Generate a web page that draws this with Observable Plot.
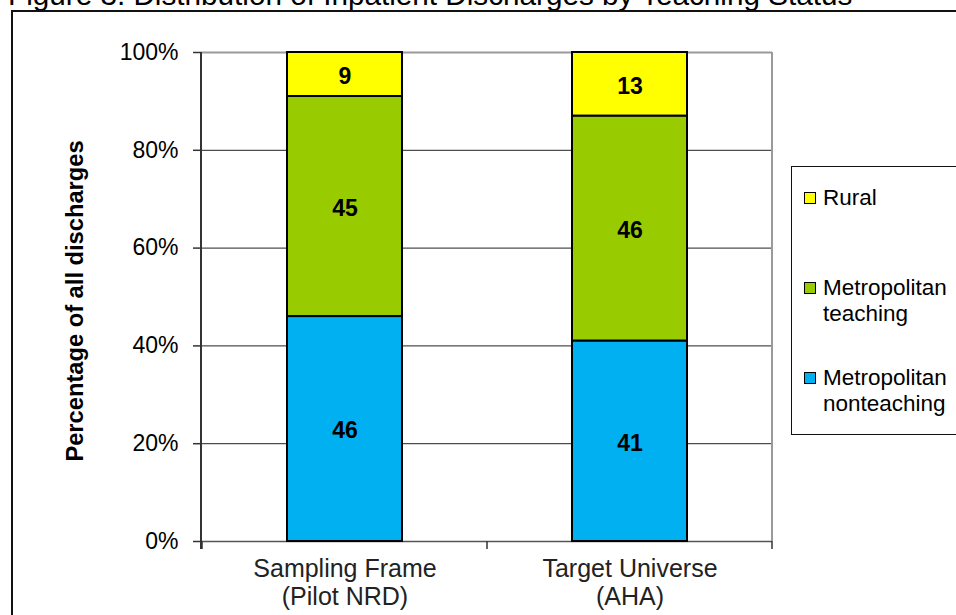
<!DOCTYPE html>
<html>
<head>
<meta charset="utf-8">
<script src="https://cdn.jsdelivr.net/npm/d3@7"></script>
<script src="https://cdn.jsdelivr.net/npm/@observablehq/plot@0.6"></script>
<style>
  html, body { margin: 0; padding: 0; background: #fff; }
  #wrap { position: relative; width: 956px; height: 615px; overflow: hidden;
          font-family: "Liberation Sans", Arial, sans-serif; color: #000; }
  #title { position: absolute; left: 8px; top: -20px; font-size: 29.7px; line-height: 1; white-space: nowrap; }
  #frame { position: absolute; left: 11px; top: 10px; width: 1000px; height: 700px; border: 2px solid #111; }
  #chart { position: absolute; left: 0; top: 0; }
  #legend { position: absolute; left: 791px; top: 166px; width: 220px; height: 267px; border: 1px solid #111; background: #fff; }
  .entry { position: absolute; left: 12px; font-size: 22.5px; line-height: 26px; }
  .swatch { position: absolute; left: 0; top: 7px; width: 10px; height: 10px; border: 1.5px solid #000; }
  .entry span { display: block; padding-left: 19px; }
</style>
</head>
<body>
<div id="wrap">
  <div id="title">Figure 3. Distribution of Inpatient Discharges by Teaching Status</div>
  <div id="frame"></div>
  <div id="chart"></div>
  <div id="legend"></div>
</div>
<script>
// Share of inpatient discharges (percent) by hospital type
const categories = ["Sampling Frame\n(Pilot NRD)", "Target Universe\n(AHA)"];
const seriesNames = ["Metropolitan nonteaching", "Metropolitan teaching", "Rural"];
const legendLines = [["Metropolitan", "nonteaching"], ["Metropolitan", "teaching"], ["Rural"]];
const nonteaching = [46, 41];
const teaching = [45, 46];
const rural = [9, 13];
const seriesColors = ["#00B0F0", "#99CC00", "#FFFF00"];
const yTicks = [0, 20, 40, 60, 80, 100];
const yLabel = "Percentage of all discharges";

const seriesValues = [nonteaching, teaching, rural];
const rows = [];
seriesNames.forEach((s, si) => {
  categories.forEach((c, ci) => rows.push({category: c, series: s, value: seriesValues[si][ci]}));
});

// Plot-area frame pieces and category boundary ticks, placed through the scales
const frameLines = (index, scales, values, dims) => {
  const g = d3.create("svg:g");
  const x = scales.x, y = scales.y;
  const left = dims.marginLeft, right = dims.width - dims.marginRight;
  const top = y(100), bottom = y(0);
  g.append("line").attr("x1", right).attr("x2", right).attr("y1", top).attr("y2", bottom)
    .attr("stroke", "#9a9a9a").attr("stroke-width", 2);
  g.append("line").attr("x1", left).attr("x2", left).attr("y1", top).attr("y2", bottom + 8)
    .attr("stroke", "#333").attr("stroke-width", 2);
  const half = (x.step() - x.bandwidth()) / 2;
  const edges = categories.map(c => x(c) - half).concat([x(categories[categories.length - 1]) + x.bandwidth() + half]);
  edges.forEach(e => {
    g.append("line").attr("x1", e).attr("x2", e).attr("y1", bottom).attr("y2", bottom + 8)
      .attr("stroke", "#333").attr("stroke-width", 1.5);
  });
  return g.node();
};

const chart = Plot.plot({
  width: 956,
  height: 615,
  marginLeft: 201,
  marginRight: 184,
  marginTop: 52,
  marginBottom: 74,
  style: {fontFamily: "'Liberation Sans', Arial, sans-serif", background: "transparent", color: "#000"},
  x: {domain: categories, paddingInner: 0.597, paddingOuter: 0.2985, axis: null},
  y: {domain: [0, 100], axis: null},
  color: {domain: seriesNames, range: seriesColors},
  marks: [
    Plot.ruleY(yTicks.filter(t => t > 0 && t < 100), {stroke: "#222", strokeWidth: 1}),
    Plot.ruleY([100], {stroke: "#9a9a9a", strokeWidth: 2}),
    Plot.ruleY([0], {stroke: "#555", strokeWidth: 1.5}),
    Plot.axisY({ticks: yTicks, tickSize: 8, tickPadding: 15, tickFormat: d => d + "%",
                fontSize: 23, stroke: "#333", strokeWidth: 1.5, label: null}),
    Plot.barY(rows, {x: "category", y: "value", fill: "series", stroke: "#000", strokeWidth: 2, inset: 0, order: seriesNames}),
    Plot.text(rows, Plot.stackY({x: "category", y: "value", z: "series", order: seriesNames,
                text: "value", fontSize: 23, fontWeight: "bold", fill: "#000", dy: 2})),
    Plot.text(categories, {x: d => d, frameAnchor: "bottom", lineAnchor: "top", dy: 16,
                fontSize: 25, lineHeight: 1.12, fill: "#222"}),
    Plot.text([yLabel], {frameAnchor: "left", textAnchor: "middle", rotate: -90, dx: -126, dy: 4, fontSize: 23.7,
                fontWeight: "bold", fill: "#000"}),
    frameLines
  ]
});
document.getElementById("chart").appendChild(chart);

// Legend: top entry is the top of the stack
const legend = document.getElementById("legend");
const tops = [31, 121, 211];
[...seriesNames.keys()].reverse().forEach((si, k) => {
  const e = document.createElement("div");
  e.className = "entry";
  e.style.top = (tops[k] - 13) + "px";
  const sw = document.createElement("div");
  sw.className = "swatch";
  sw.style.background = seriesColors[si];
  e.appendChild(sw);
  legendLines[si].forEach(t => {
    const s = document.createElement("span");
    s.textContent = t;
    e.appendChild(s);
  });
  legend.appendChild(e);
});
</script>
</body>
</html>
